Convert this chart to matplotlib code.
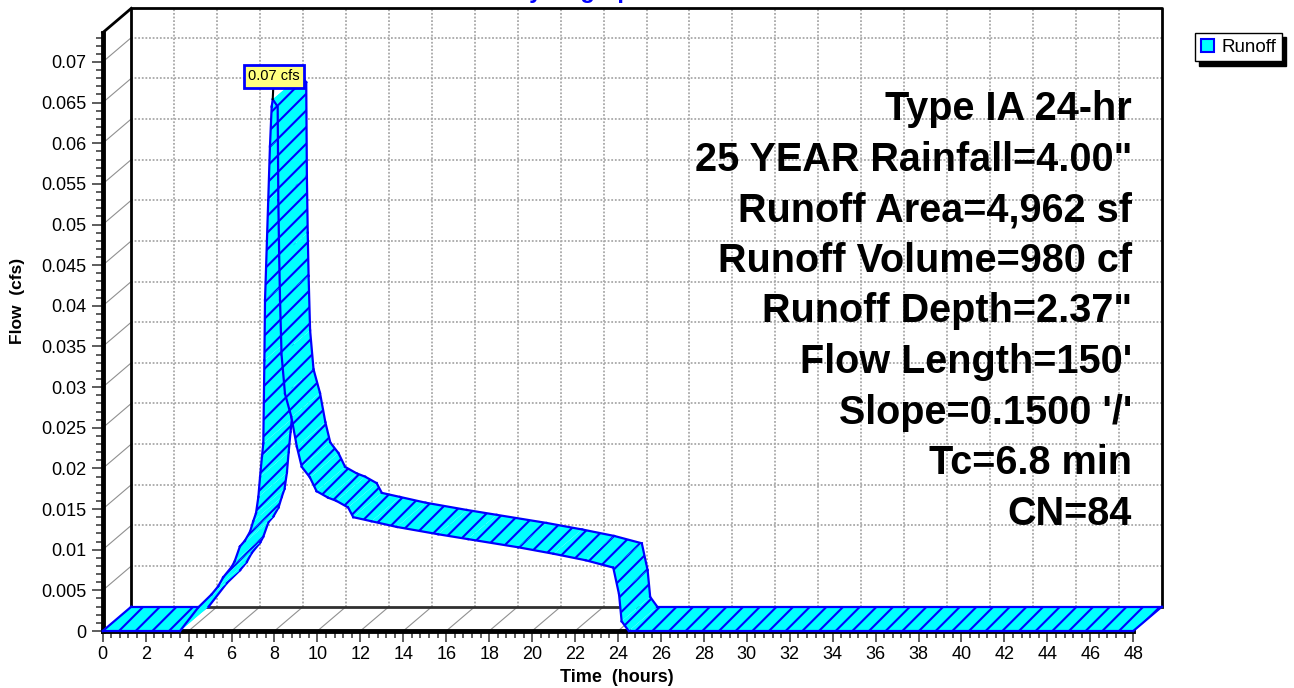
import numpy as np
import matplotlib
matplotlib.use("Agg")
import matplotlib.pyplot as plt
from matplotlib.patches import Polygon, Patch
from matplotlib.ticker import FixedLocator

plt.rcParams['font.family'] = ['Liberation Sans', 'DejaVu Sans']
plt.rcParams['hatch.linewidth'] = 1.5

time_hr = [0.0, 3.6, 4.45, 5.07, 5.38, 5.61, 6.01, 6.15, 6.39, 6.62,
           6.86, 7.01, 7.14, 7.25, 7.33, 7.42, 7.48, 7.53, 7.56, 7.71,
           7.79, 7.87, 7.92, 8.15, 8.18, 8.22, 8.26, 8.33, 8.49, 8.79,
           9.04, 9.27, 9.65, 9.96, 10.5, 10.89, 11.43, 11.67, 12.52, 13.7,
           15.63, 17.02, 19.35, 21.0, 22.5, 23.78, 24.05, 24.17, 24.5, 48.0]
flow_cfs = [0, 0, 0.0029, 0.0045, 0.0055, 0.0066, 0.0079, 0.0086, 0.0104, 0.0111,
            0.0122, 0.0135, 0.0145, 0.0165, 0.019, 0.0215, 0.0231, 0.0333, 0.0407, 0.0530,
            0.0596, 0.0645, 0.0654, 0.0645, 0.0530, 0.046, 0.0407, 0.0340, 0.0292, 0.0263,
            0.0227, 0.0202, 0.0189, 0.0172, 0.0164, 0.0160, 0.0152, 0.0140, 0.0135, 0.0128,
            0.0119, 0.0113, 0.0103, 0.0095, 0.0087, 0.0078, 0.0045, 0.0012, 0, 0]

x_ticks = list(range(0, 49, 2))
y_ticks = [round(0.005 * k, 3) for k in range(15)]

info_lines = ["Type IA 24-hr", '25 YEAR Rainfall=4.00"', "Runoff Area=4,962 sf",
              "Runoff Volume=980 cf", 'Runoff Depth=2.37"', "Flow Length=150'",
              "Slope=0.1500 '/'", "Tc=6.8 min", "CN=84"]

# figure / 3-D box geometry
W, H = 1294, 688
fig = plt.figure(figsize=(W / 100, H / 100), dpi=100)
x0_px, y0_px = 102.7, 631.0
px_per_hr, px_per_cfs = 21.47, 8129.0
DX, DY = 1.33, 0.00299          # depth of the box in data units
X_END, Y_TOP = 48, 0.0736
xmax = X_END + DX + 0.07
ymax = Y_TOP + DY
ax = fig.add_axes([x0_px / W, (H - y0_px) / H,
                   xmax * px_per_hr / W, ymax * px_per_cfs / H])
ax.set_xlim(0, xmax)
ax.set_ylim(0, ymax)
for s in ax.spines.values():
    s.set_visible(False)

ax.set_xticks(x_ticks)
ax.set_yticks(y_ticks, [f"{v:g}" for v in y_ticks])
ax.xaxis.set_minor_locator(FixedLocator(np.arange(0, 48.001, 0.4)))
ax.yaxis.set_minor_locator(FixedLocator(np.arange(0, 0.0735, 0.001)))
ax.tick_params(which='both', direction='out', color='#505050', width=1.3, labelsize=13)
ax.tick_params(which='major', length=8)
ax.tick_params(which='minor', length=5)
ax.tick_params(axis='y', pad=3.5)
ax.tick_params(axis='x', pad=3)

# back wall grid
grid = dict(color='#a8a8a8', lw=1.3, ls=(0, (1, 1)), zorder=1)
for t in x_ticks[1:-1]:
    ax.plot([t + DX, t + DX], [DY, ymax], **grid)
for v in y_ticks[1:]:
    ax.plot([DX, X_END + DX], [v + DY, v + DY], **grid)
# floor and side wall diagonals
for t in x_ticks[1:]:
    ax.plot([t, t + DX], [0, DY], color='#909090', lw=0.8, zorder=1)
for v in y_ticks[1:]:
    ax.plot([0, DX], [v, v + DY], color='#909090', lw=0.8, zorder=1)

# box edges
edge = dict(color='black', lw=2, zorder=2, clip_on=False)
ax.plot([DX, DX, X_END + DX, X_END + DX], [DY, ymax, ymax, DY], **edge)
ax.plot([DX, X_END + DX], [DY, DY], color='#303030', lw=2, zorder=2)
ax.plot([0, DX], [Y_TOP, ymax], **edge)
ax.plot([0, 0], [0, Y_TOP], color='black', lw=3.5, zorder=2, clip_on=False)
ax.plot([0, X_END], [0, 0], color='black', lw=3.5, zorder=2, clip_on=False)

# ribbon
t = np.array(time_hr)
q = np.array(flow_cfs)
for i in range(len(t) - 1):
    z = 3 + i * 0.01
    quad = [(t[i], q[i]), (t[i + 1], q[i + 1]),
            (t[i + 1] + DX, q[i + 1] + DY), (t[i] + DX, q[i] + DY)]
    ax.add_patch(Polygon(quad, closed=True, facecolor='cyan', edgecolor='blue',
                         lw=0, hatch='//', zorder=z, clip_on=False))
    ax.plot(t[i:i + 2], q[i:i + 2], color='blue', lw=1.6, zorder=z + 0.005, clip_on=False)
    ax.plot(t[i:i + 2] + DX, q[i:i + 2] + DY, color='blue', lw=1.6, zorder=z + 0.005,
            clip_on=False)
for k in (0, -1):
    ax.plot([t[k], t[k] + DX], [q[k], q[k] + DY], color='blue', lw=1.6, zorder=4,
            clip_on=False)

# peak label
ip = int(np.argmax(q))
ax.annotate(f"{q[ip]:.2f} cfs", xy=(t[ip], q[ip]), xytext=(1, 23),
            textcoords='offset pixels', ha='center', va='center', fontsize=10.5,
            bbox=dict(boxstyle='square,pad=0.3', fc='#ffff80', ec='blue', lw=2),
            arrowprops=dict(arrowstyle='-', color='black', lw=1.5, shrinkA=0, shrinkB=0),
            zorder=6)

# text block
for k, s in enumerate(info_lines):
    fig.text(1132 / W, 1 - (120 + 50.6 * k) / H, s, ha='right', va='baseline',
             fontsize=28.5, fontweight='bold')

fig.text(580 / W, 1 + 2 / H, "Hydrograph", ha='center', va='baseline',
         fontsize=17, fontweight='bold', color='blue')
fig.text(18 / W, 1 - 301 / H, "Flow  (cfs)", rotation=90, ha='center', va='center',
         fontsize=12.5, fontweight='bold')
fig.text(617 / W, 1 - 677 / H, "Time  (hours)", ha='center', va='center',
         fontsize=13, fontweight='bold')

fig.legend(handles=[Patch(facecolor='cyan', edgecolor='blue', lw=1.5, label='Runoff')],
           loc='upper left', bbox_to_anchor=(1195 / W, 1 - 33 / H), borderaxespad=0,
           fontsize=13.5, fancybox=False, edgecolor='black', framealpha=1,
           handlelength=0.7, handleheight=0.7, handletextpad=0.4, borderpad=0.3,
           shadow={'ox': 3, 'oy': -3, 'facecolor': 'black', 'edgecolor': 'black',
                   'alpha': 1})

fig.savefig("out.png", dpi=100)
